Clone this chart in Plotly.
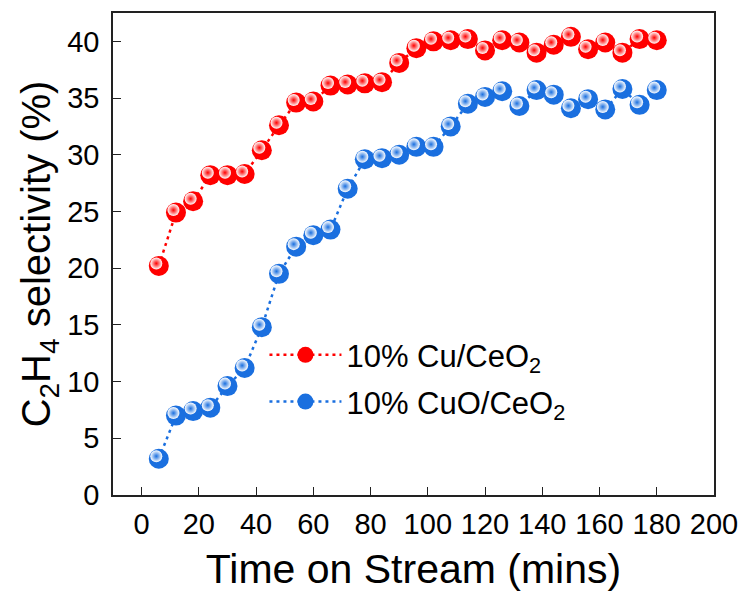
import plotly.graph_objects as go

# Time on stream (minutes)
time_min = [6, 12, 18, 24, 30, 36, 42, 48, 54, 60, 66, 72, 78, 84, 90,
            96, 102, 108, 114, 120, 126, 132, 138, 144, 150, 156, 162, 168, 174, 180]

# C2H4 selectivity (%) for each catalyst
cu_ceo2 = [20.2, 24.9, 25.9, 28.2, 28.2, 28.3, 30.4, 32.6, 34.6, 34.7, 36.1, 36.2, 36.3, 36.4, 38.1,
           39.4, 40.0, 40.1, 40.2, 39.2, 40.1, 39.9, 39.0, 39.7, 40.4, 39.3, 39.9, 39.0, 40.2, 40.1]
cuo_ceo2 = [3.2, 7.0, 7.4, 7.7, 9.6, 11.2, 14.8, 19.5, 21.9, 22.9, 23.4, 27.0, 29.6, 29.7, 30.0,
            30.7, 30.7, 32.5, 34.5, 35.1, 35.6, 34.3, 35.7, 35.3, 34.1, 34.9, 34.0, 35.8, 34.4, 35.7]

series_names = ["10% Cu/CeO<sub>2</sub>", "10% CuO/CeO<sub>2</sub>"]
series_colors = ["#FF0000", "#1A6FDF"]
series_legends = ["legend", "legend2"]

x_ticks = list(range(0, 201, 20))
y_ticks = list(range(0, 41, 5))

X_RANGE = [-10, 200]
Y_RANGE = [0, 42.5]
W, H = 743, 592
M = dict(l=113, r=29, t=13, b=97)

# pixel -> data unit conversion, used to place the specular highlight of each sphere
px_x = (X_RANGE[1] - X_RANGE[0]) / (W - M["l"] - M["r"])
px_y = (Y_RANGE[1] - Y_RANGE[0]) / (H - M["t"] - M["b"])
hl_dx, hl_dy = -2.5 * px_x, 2.5 * px_y

FONT = "Liberation Sans, Arial, sans-serif"

fig = go.Figure()

# draw blue first so red sits on top
series = list(zip(series_names, [cu_ceo2, cuo_ceo2], series_colors, series_legends))
for name, ys, col, leg in reversed(series):
    fig.add_trace(go.Scatter(
        x=time_min, y=ys, name=name, mode="lines+markers", legend=leg,
        line=dict(color=col, width=2.5, dash="3px,4px"),
        marker=dict(size=20, color=col, line=dict(width=0)),
    ))
    # glossy highlight on each sphere
    fig.add_trace(go.Scatter(
        x=[t + hl_dx for t in time_min], y=[v + hl_dy for v in ys],
        mode="markers", showlegend=False, hoverinfo="skip",
        marker=dict(size=12, color="white", line=dict(width=0),
                    gradient=dict(type="radial", color=col)),
    ))

axis_common = dict(
    showline=True, linecolor="#222", linewidth=1.6, mirror=True,
    ticks="inside", ticklen=8, tickwidth=1.4, tickcolor="#222",
    showgrid=False, zeroline=False, automargin=False,
    tickfont=dict(family=FONT, size=29, color="black"),
)

fig.update_xaxes(range=X_RANGE, tickvals=x_ticks, ticklabelstandoff=2, **axis_common,
                 title=dict(text="Time on Stream (mins)",
                            font=dict(family=FONT, size=41, color="black"), standoff=16))
fig.update_yaxes(range=Y_RANGE, tickvals=y_ticks, ticklabelstandoff=6, **axis_common,
                 title=dict(text="C<sub>2</sub>H<sub>4</sub> selectivity (%)",
                            font=dict(family=FONT, size=40, color="black"), standoff=4))

legend_common = dict(xanchor="left", yanchor="middle", bgcolor="rgba(0,0,0,0)",
                     itemwidth=72, font=dict(family=FONT, size=31, color="black"))

fig.update_layout(
    width=W, height=H, margin=M,
    paper_bgcolor="white", plot_bgcolor="white",
    showlegend=True,
    legend=dict(x=0.252, y=0.29, **legend_common),
    legend2=dict(x=0.252, y=0.193, **legend_common),
)

fig.write_html("out.html")
